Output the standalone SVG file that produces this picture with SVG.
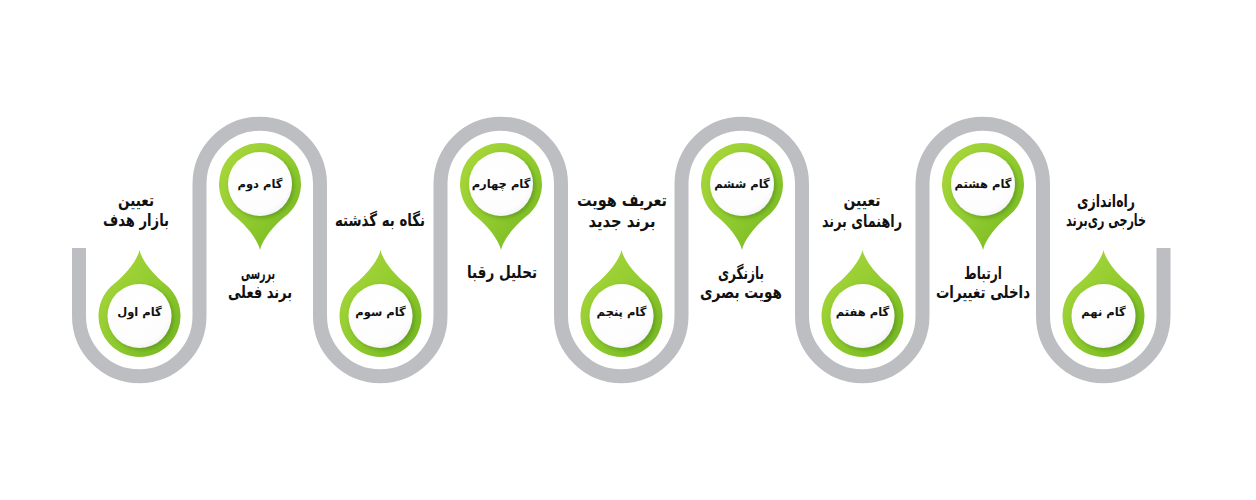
<svg xmlns="http://www.w3.org/2000/svg" xmlns:xlink="http://www.w3.org/1999/xlink" width="1256" height="500" viewBox="0 0 1256 500">
<style>
.track{fill:none;stroke:#bdbec1;stroke-width:14;stroke-linecap:butt}
.pin{fill:url(#gGreen)}
.hole{fill:url(#gWhite);filter:url(#sh)}
.step{font-family:"DejaVu Sans",sans-serif;font-weight:bold;font-size:11.5px;fill:#111;text-anchor:middle}
.lbl{font-family:"DejaVu Sans",sans-serif;font-weight:bold;font-size:17px;fill:#111;text-anchor:middle}
</style>
<defs>
<linearGradient id="gGreen" x1="0" y1="0" x2="1" y2="1">
<stop offset="0" stop-color="#acd93c"/>
<stop offset="0.55" stop-color="#8fca2e"/>
<stop offset="1" stop-color="#72b51f"/>
</linearGradient>
<radialGradient id="gWhite" cx="0.45" cy="0.4" r="0.65">
<stop offset="0" stop-color="#ffffff"/>
<stop offset="0.8" stop-color="#fdfdfd"/>
<stop offset="1" stop-color="#f0f0f0"/>
</radialGradient>
<filter id="sh" x="-30%" y="-30%" width="160%" height="160%">
<feDropShadow dx="2" dy="2" stdDeviation="2" flood-color="#3d7a08" flood-opacity="0.5"/>
</filter>
<path id="pinUp" d="M0,-66 C2,-56 14.3,-40.9 25.3,-32.3 A41,41 0 1 1 -25.3,-32.3 C-14.3,-40.9 -2,-56 0,-66 Z"/>
<path id="pinDown" d="M0,66 C2,56 14.3,40.9 25.3,32.3 A41,41 0 1 0 -25.3,32.3 C-14.3,40.9 -2,56 0,66 Z"/>
</defs>
<rect width="1256" height="500" fill="#ffffff"/>
<g id="connectors">
<path class="track" d="M79,248 L79,316 A60.25,60.25 0 0 0 199.5,316 L199.5,184 A60.25,60.25 0 0 1 320,184 L320,316 A60.25,60.25 0 0 0 440.5,316 L440.5,184 A60.25,60.25 0 0 1 561,184 L561,316 A60.25,60.25 0 0 0 681.5,316 L681.5,184 A60.25,60.25 0 0 1 802,184 L802,316 A60.25,60.25 0 0 0 922.5,316 L922.5,184 A60.25,60.25 0 0 1 1043,184 L1043,316 A60.25,60.25 0 0 0 1163.5,316 L1163.5,248"/>
</g>
<g id="step1">
<use xlink:href="#pinUp" class="pin" transform="translate(139.5,316)"/>
<circle class="hole" cx="139.5" cy="316" r="32"/>
<text class="step" x="139.5" y="316" direction="rtl">گام اول</text>
<text class="lbl" x="136" y="206" direction="rtl" textLength="36" lengthAdjust="spacingAndGlyphs">تعیین</text>
<text class="lbl" x="136" y="226" direction="rtl" textLength="66" lengthAdjust="spacingAndGlyphs">بازار هدف</text>
</g>
<g id="step2">
<use xlink:href="#pinDown" class="pin" transform="translate(260,184)"/>
<circle class="hole" cx="260" cy="184" r="32"/>
<text class="step" x="260" y="188" direction="rtl">گام دوم</text>
<text class="lbl" x="258" y="279" direction="rtl" textLength="34" lengthAdjust="spacingAndGlyphs">بررسی</text>
<text class="lbl" x="260" y="298" direction="rtl" textLength="64" lengthAdjust="spacingAndGlyphs">برند فعلی</text>
</g>
<g id="step3">
<use xlink:href="#pinUp" class="pin" transform="translate(380.5,316)"/>
<circle class="hole" cx="380.5" cy="316" r="32"/>
<text class="step" x="380.5" y="316" direction="rtl">گام سوم</text>
<text class="lbl" x="380" y="226" direction="rtl" textLength="90" lengthAdjust="spacingAndGlyphs">نگاه به گذشته</text>
</g>
<g id="step4">
<use xlink:href="#pinDown" class="pin" transform="translate(501,184)"/>
<circle class="hole" cx="501" cy="184" r="32"/>
<text class="step" x="501" y="188" direction="rtl">گام چهارم</text>
<text class="lbl" x="502" y="278" direction="rtl" textLength="70" lengthAdjust="spacingAndGlyphs">تحلیل رقبا</text>
</g>
<g id="step5">
<use xlink:href="#pinUp" class="pin" transform="translate(621.5,316)"/>
<circle class="hole" cx="621.5" cy="316" r="32"/>
<text class="step" x="621.5" y="316" direction="rtl">گام پنجم</text>
<text class="lbl" x="622" y="206" direction="rtl" textLength="90" lengthAdjust="spacingAndGlyphs">تعریف هویت</text>
<text class="lbl" x="622" y="227" direction="rtl" textLength="67" lengthAdjust="spacingAndGlyphs">برند جدید</text>
</g>
<g id="step6">
<use xlink:href="#pinDown" class="pin" transform="translate(742,184)"/>
<circle class="hole" cx="742" cy="184" r="32"/>
<text class="step" x="742" y="188" direction="rtl">گام ششم</text>
<text class="lbl" x="741" y="279" direction="rtl" textLength="46" lengthAdjust="spacingAndGlyphs">بازنگری</text>
<text class="lbl" x="741" y="298" direction="rtl" textLength="82" lengthAdjust="spacingAndGlyphs">هویت بصری</text>
</g>
<g id="step7">
<use xlink:href="#pinUp" class="pin" transform="translate(862.5,316)"/>
<circle class="hole" cx="862.5" cy="316" r="32"/>
<text class="step" x="862.5" y="316" direction="rtl">گام هفتم</text>
<text class="lbl" x="862" y="206" direction="rtl" textLength="37" lengthAdjust="spacingAndGlyphs">تعیین</text>
<text class="lbl" x="862" y="227" direction="rtl" textLength="80" lengthAdjust="spacingAndGlyphs">راهنمای برند</text>
</g>
<g id="step8">
<use xlink:href="#pinDown" class="pin" transform="translate(983,184)"/>
<circle class="hole" cx="983" cy="184" r="32"/>
<text class="step" x="983" y="188" direction="rtl">گام هشتم</text>
<text class="lbl" x="983" y="279" direction="rtl" textLength="38" lengthAdjust="spacingAndGlyphs">ارتباط</text>
<text class="lbl" x="983" y="298" direction="rtl" textLength="94" lengthAdjust="spacingAndGlyphs">داخلی تغییرات</text>
</g>
<g id="step9">
<use xlink:href="#pinUp" class="pin" transform="translate(1103.5,316)"/>
<circle class="hole" cx="1103.5" cy="316" r="32"/>
<text class="step" x="1103.5" y="316" direction="rtl">گام نهم</text>
<text class="lbl" x="1106" y="207" direction="rtl" textLength="58" lengthAdjust="spacingAndGlyphs">راه‌اندازی</text>
<text class="lbl" x="1106" y="226" direction="rtl" textLength="80" lengthAdjust="spacingAndGlyphs">خارجی ری‌برند</text>
</g>
</svg>
